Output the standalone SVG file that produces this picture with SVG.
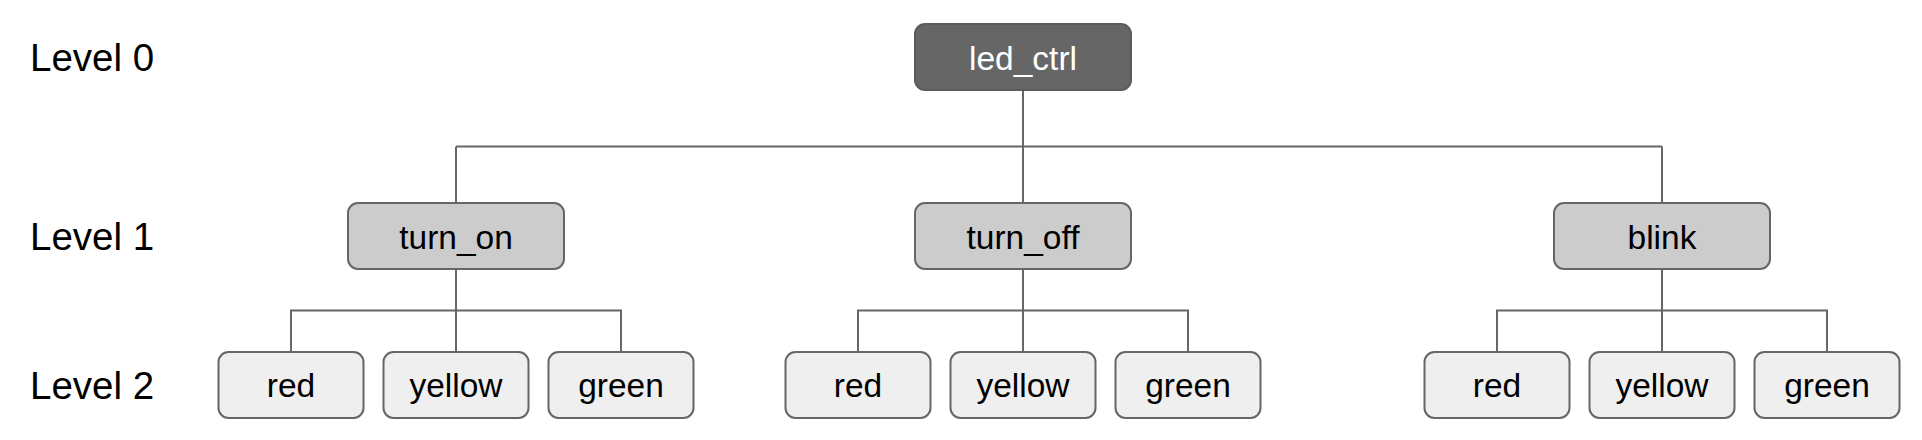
<svg xmlns="http://www.w3.org/2000/svg" width="1922" height="440" viewBox="0 0 1922 440">
<style>
.lvl{font-family:"Liberation Sans",Arial,sans-serif;font-size:38.5px;fill:#000}
.t{font-family:"Liberation Sans",Arial,sans-serif;font-size:33.5px;text-anchor:middle;fill:#000}
.root rect{fill:#666666;stroke:#5b5b5b;stroke-width:2}
.root text{fill:#ffffff}
.l1 rect{fill:#cccccc;stroke:#666666;stroke-width:2}
.l2 rect{fill:#efefef;stroke:#666666;stroke-width:2}
#connectors path{fill:none;stroke:#666666;stroke-width:2}
</style>
<rect width="1922" height="440" fill="#ffffff"/>
<text class="lvl" x="30" y="71">Level 0</text>
<text class="lvl" x="30" y="250">Level 1</text>
<text class="lvl" x="30" y="399">Level 2</text>
<g id="connectors">
<path d="M1023 90V146.5M456 146.5H1662M456 146.5V203M1023 146.5V203M1662 146.5V203"/>
<path d="M456 269V310.5M291 352V310.5H621V352M456 310.5V352"/>
<path d="M1023 269V310.5M858 352V310.5H1188V352M1023 310.5V352"/>
<path d="M1662 269V310.5M1497 352V310.5H1827V352M1662 310.5V352"/>
</g>
<g id="led_ctrl" class="root"><rect x="915" y="24" width="216" height="66" rx="10"/><text class="t" x="1023" y="70">led_ctrl</text></g>
<g id="turn_on" class="l1"><rect x="348" y="203" width="216" height="66" rx="10"/><text class="t" x="456" y="248.5">turn_on</text></g>
<g id="turn_off" class="l1"><rect x="915" y="203" width="216" height="66" rx="10"/><text class="t" x="1023" y="248.5">turn_off</text></g>
<g id="blink" class="l1"><rect x="1554" y="203" width="216" height="66" rx="10"/><text class="t" x="1662" y="248.5">blink</text></g>
<g id="on_red" class="l2"><rect x="218.5" y="352" width="145" height="66" rx="10"/><text class="t" x="291" y="397">red</text></g>
<g id="on_yellow" class="l2"><rect x="383.5" y="352" width="145" height="66" rx="10"/><text class="t" x="456" y="397">yellow</text></g>
<g id="on_green" class="l2"><rect x="548.5" y="352" width="145" height="66" rx="10"/><text class="t" x="621" y="397">green</text></g>
<g id="off_red" class="l2"><rect x="785.5" y="352" width="145" height="66" rx="10"/><text class="t" x="858" y="397">red</text></g>
<g id="off_yellow" class="l2"><rect x="950.5" y="352" width="145" height="66" rx="10"/><text class="t" x="1023" y="397">yellow</text></g>
<g id="off_green" class="l2"><rect x="1115.5" y="352" width="145" height="66" rx="10"/><text class="t" x="1188" y="397">green</text></g>
<g id="blink_red" class="l2"><rect x="1424.5" y="352" width="145" height="66" rx="10"/><text class="t" x="1497" y="397">red</text></g>
<g id="blink_yellow" class="l2"><rect x="1589.5" y="352" width="145" height="66" rx="10"/><text class="t" x="1662" y="397">yellow</text></g>
<g id="blink_green" class="l2"><rect x="1754.5" y="352" width="145" height="66" rx="10"/><text class="t" x="1827" y="397">green</text></g>
</svg>
